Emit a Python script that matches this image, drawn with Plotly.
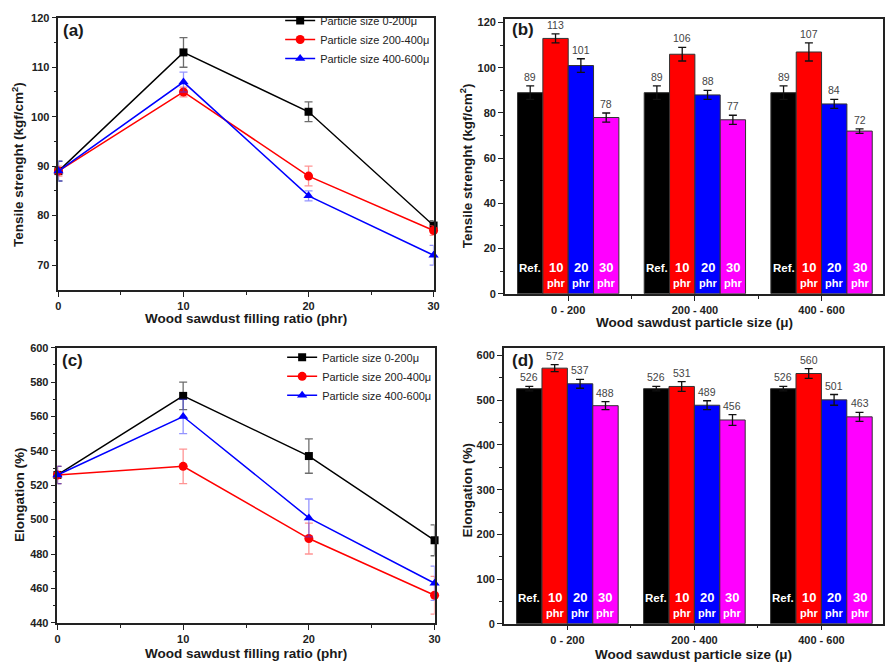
import plotly.graph_objects as go

W, H = 889, 670
FONT = "Arial, Liberation Sans, sans-serif"

# ---------------- data ----------------
phr = [0, 10, 20, 30]
series_names = ["Particle size 0-200μ", "Particle size 200-400μ", "Particle size 400-600μ"]
series_colors = ["#000000", "#ff0000", "#0000ff"]
err_colors = ["rgba(60,60,60,0.75)", "rgba(255,60,60,0.55)", "rgba(60,60,255,0.55)"]
series_symbols = ["square", "circle", "triangle-up"]

# (a) tensile strength vs filling ratio
ts_0_200 = [89, 113, 101, 78]
ts_200_400 = [89, 105, 88, 77]
ts_400_600 = [89, 107, 84, 72]
ts_err_0_200 = [2, 3, 2, 1]
ts_err_200_400 = [1, 1, 2, 1]
ts_err_400_600 = [2, 2, 1, 2]

# (c) elongation vs filling ratio
el_0_200 = [526, 572, 537, 488]
el_200_400 = [526, 531, 489, 456]
el_400_600 = [526, 560, 501, 463]
el_err_0_200 = [5, 8, 10, 9]
el_err_200_400 = [5, 10, 9, 11]
el_err_400_600 = [5, 10, 11, 10]

# (b)/(d) bars by particle size
sizes = ["0 - 200", "200 - 400", "400 - 600"]
levels = ["Ref.", "10", "20", "30"]
level_colors = ["#000000", "#ff0000", "#0000ff", "#ff00ff"]

ts_ref = [89, 89, 89]
ts_10 = [113, 106, 107]
ts_20 = [101, 88, 84]
ts_30 = [78, 77, 72]
ts_ref_err = [3, 3, 3]
ts_10_err = [2, 3, 4]
ts_20_err = [3, 2, 2]
ts_30_err = [2, 2, 1]

el_ref = [526, 526, 526]
el_10 = [572, 531, 560]
el_20 = [537, 489, 501]
el_30 = [488, 456, 463]
el_ref_err = [5, 5, 5]
el_10_err = [8, 11, 11]
el_20_err = [10, 10, 12]
el_30_err = [9, 12, 10]

# ---------------- figure ----------------
fig = go.Figure()

def px_x(p):
    return p / W

def px_y(p):
    return 1 - p / H

dom = {
    "a": dict(x=[56 / W, 435 / W], y=[px_y(289), px_y(12)]),
    "b": dict(x=[507 / W, 1.0], y=[px_y(293), px_y(13)]),
    "c": dict(x=[55 / W, 436 / W], y=[px_y(628), px_y(348)]),
    "d": dict(x=[506 / W, 1.0], y=[px_y(629), px_y(348)]),
}

# line panels
line_sets = [
    ("x", "y", "legend", [ts_0_200, ts_200_400, ts_400_600], [ts_err_0_200, ts_err_200_400, ts_err_400_600]),
    ("x3", "y3", "legend2", [el_0_200, el_200_400, el_400_600], [el_err_0_200, el_err_200_400, el_err_400_600]),
]
for xa, ya, lg, vals, errs in line_sets:
    for k in range(3):
        fig.add_trace(go.Scatter(
            x=phr, y=vals[k], mode="lines+markers", name=series_names[k],
            xaxis=xa, yaxis=ya, legend=lg, cliponaxis=False,
            line=dict(color=series_colors[k], width=1.5),
            marker=dict(color=series_colors[k], symbol=series_symbols[k], size=9 if k else 8),
            error_y=dict(type="data", array=errs[k], visible=True,
                         color=err_colors[k], thickness=1.3, width=4),
        ))

# bar panels
bar_sets = [
    ("x2", "y2", [ts_ref, ts_10, ts_20, ts_30], [ts_ref_err, ts_10_err, ts_20_err, ts_30_err]),
    ("x4", "y4", [el_ref, el_10, el_20, el_30], [el_ref_err, el_10_err, el_20_err, el_30_err]),
]
annotations = []
bw = 0.2
for xa, ya, vals, errs in bar_sets:
    xs = list(range(len(sizes)))
    for i in range(4):
        off = -0.4 + bw * i
        fig.add_trace(go.Bar(
            x=xs, y=vals[i], width=bw, offset=off, xaxis=xa, yaxis=ya,
            showlegend=False,
            marker=dict(color=level_colors[i], line=dict(color="#333333", width=1)),
            error_y=dict(type="data", array=errs[i], visible=True,
                         color="#111111", thickness=1.3, width=4),
        ))
        for j in xs:
            cx = j + off + bw / 2
            annotations.append(dict(
                x=cx, y=vals[i][j] + errs[i][j], xref=xa, yref=ya,
                text=str(vals[i][j]), showarrow=False, yanchor="bottom", yshift=1,
                font=dict(family=FONT, size=10.5, color="#444444"),
            ))
            annotations.append(dict(
                x=cx, y=0, xref=xa, yref=ya, text=levels[i], showarrow=False,
                yanchor="middle", yshift=26,
                font=dict(family=FONT, size=11.5 if i == 0 else 13, color="#ffffff", weight="bold"),
            ))
            if i > 0:
                annotations.append(dict(
                    x=cx, y=0, xref=xa, yref=ya, text="phr", showarrow=False,
                    yanchor="middle", yshift=11,
                    font=dict(family=FONT, size=11, color="#ffffff", weight="bold"),
                ))

# text annotations (titles and panel labels)
def txt(text, x, y, size=13.5, angle=0, weight="bold", xanchor="center"):
    annotations.append(dict(
        x=px_x(x), y=px_y(y), xref="paper", yref="paper", text=text, showarrow=False,
        xanchor=xanchor, yanchor="middle", textangle=angle,
        font=dict(family=FONT, size=size, color="#1a1a1a", weight=weight),
    ))

txt("Wood sawdust filling ratio (phr)", 245, 318)
txt("Wood sawdust particle size (μ)", 699, 322)
txt("Wood sawdust filling ratio (phr)", 245, 659)
txt("Wood sawdust particle size (μ)", 698, 660)
txt("Tensile strenght (kgf/cm<sup>2</sup>)", 15, 161, angle=-90)
txt("Tensile strenght (kgf/cm<sup>2</sup>)", 468, 163, angle=-90)
txt("Elongation (%)", 16, 497, angle=-90)
txt("Elongation (%)", 469, 493, angle=-90)
txt("(a)", 59, 25, size=17, xanchor="left")
txt("(b)", 512, 24, size=17, xanchor="left")
txt("(c)", 58, 361, size=17, xanchor="left")
txt("(d)", 512, 361, size=17, xanchor="left")

axis_common = dict(
    showline=True, linecolor="#222222", linewidth=1.5, mirror=True,
    ticks="outside", ticklen=5, tickwidth=1.3, tickcolor="#222222",
    showgrid=False, zeroline=False,
    tickfont=dict(family=FONT, size=11, color="#222222", weight="bold"),
)
minor_common = dict(ticks="outside", ticklen=3, tickwidth=1.2, tickcolor="#222222", showgrid=False)

fig.update_layout(
    width=W, height=H, margin=dict(l=0, r=0, t=0, b=0),
    paper_bgcolor="white", plot_bgcolor="white",
    barmode="overlay", showlegend=True,
    xaxis=dict(domain=dom["a"]["x"], anchor="y", range=[0, 30], tickvals=[0, 10, 20, 30],
               minor=dict(tickvals=[5, 15, 25], **minor_common), **axis_common),
    yaxis=dict(domain=dom["a"]["y"], anchor="x", range=[65, 120], tickvals=[70, 80, 90, 100, 110, 120],
               minor=dict(tickvals=[75, 85, 95, 105, 115], **minor_common), **axis_common),
    xaxis2=dict(domain=dom["b"]["x"], anchor="y2", range=[-0.5, 2.485],
                tickvals=list(range(len(sizes))), ticktext=sizes,
                minor=dict(tickvals=[0.5, 1.5], **minor_common), **axis_common),
    yaxis2=dict(domain=dom["b"]["y"], anchor="x2", range=[0, 121.7], tickvals=list(range(0, 121, 20)),
                minor=dict(tickvals=list(range(10, 121, 20)), **minor_common), **axis_common),
    xaxis3=dict(domain=dom["c"]["x"], anchor="y3", range=[0, 30], tickvals=[0, 10, 20, 30],
                minor=dict(tickvals=[5, 15, 25], **minor_common), **axis_common),
    yaxis3=dict(domain=dom["c"]["y"], anchor="x3", range=[440, 600], tickvals=list(range(440, 601, 20)),
                minor=dict(tickvals=list(range(450, 600, 20)), **minor_common), **axis_common),
    xaxis4=dict(domain=dom["d"]["x"], anchor="y4", range=[-0.5, 2.485],
                tickvals=list(range(len(sizes))), ticktext=sizes,
                minor=dict(tickvals=[0.5, 1.5], **minor_common), **axis_common),
    yaxis4=dict(domain=dom["d"]["y"], anchor="x4", range=[0, 617.6], tickvals=list(range(0, 601, 100)),
                minor=dict(tickvals=list(range(50, 601, 100)), **minor_common), **axis_common),
    legend=dict(x=px_x(280), y=1.0, xanchor="left", yanchor="top",
                bgcolor="rgba(0,0,0,0)", borderwidth=0, tracegroupgap=0,
                font=dict(family=FONT, size=11, color="#222222")),
    legend2=dict(x=px_x(282), y=px_y(343), xanchor="left", yanchor="top",
                 bgcolor="rgba(0,0,0,0)", borderwidth=0, tracegroupgap=0,
                 font=dict(family=FONT, size=11, color="#222222")),
    annotations=annotations,
)

fig.write_html("out.html")
